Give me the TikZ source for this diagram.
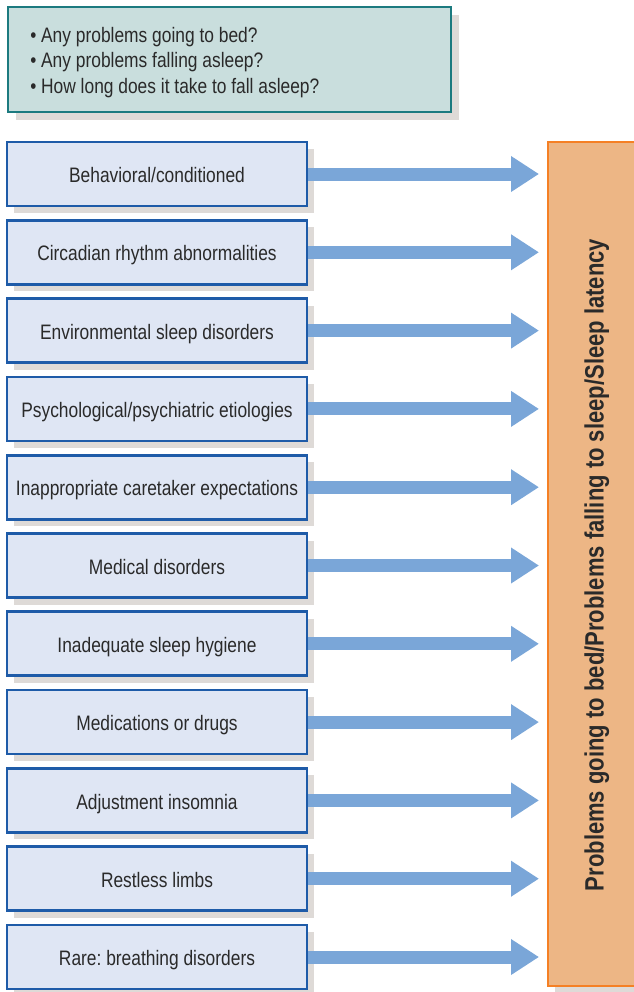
\documentclass[tikz,border=0pt]{standalone}
\usepackage{fontspec}
\setmainfont{Liberation Sans}
\newfontfamily\narrowsans[FakeStretch=0.83]{Liberation Sans}
\usetikzlibrary{shadows,arrows.meta}
\definecolor{shadowgray}{HTML}{DEDAD7}
\definecolor{topfill}{HTML}{C9DEDD}
\definecolor{topborder}{HTML}{1C7A7F}
\definecolor{causefill}{HTML}{DFE6F4}
\definecolor{causeborder}{HTML}{1E5BA8}
\definecolor{arrowblue}{HTML}{7AA6D8}
\definecolor{targetfill}{HTML}{EDB685}
\definecolor{targetborder}{HTML}{F58025}
\definecolor{textgray}{HTML}{2A2A2A}
\frenchspacing
\begin{document}
\begin{tikzpicture}[x=0.75pt,y=-0.75pt,
  shadowed/.style={drop shadow={shadow xshift=5.25pt,shadow yshift=-5.25pt,fill=shadowgray,opacity=1}},
  bodyfont/.style={font=\narrowsans\fontsize{15.7}{18}\selectfont, text=textgray},
  causebox/.style={draw=causeborder, fill=causefill, line width=2pt,
    minimum width=225pt, minimum height=48pt, inner sep=0pt, shadowed,
    bodyfont, text height=13pt, text depth=0pt},
  questionbox/.style={draw=topborder, fill=topfill, line width=1.9pt,
    minimum width=332.25pt, minimum height=78.75pt, inner sep=0pt,
    drop shadow={shadow xshift=6pt,shadow yshift=-6pt,fill=shadowgray,opacity=1}},
  targetbox/.style={draw=targetborder, fill=targetfill, line width=1.5pt,
    minimum width=69pt, minimum height=633pt, inner sep=0pt, shadowed},
  qline/.style={bodyfont, anchor=base west, inner sep=0pt},
  flow/.style={draw=arrowblue, line width=9.75pt,
    -{Triangle[length=21pt,width=25.5pt]}, shorten >=6pt}
]
\useasboundingbox (0,0) rectangle (634,992);

% question box
\node[questionbox] (qbox) at (229.5,59.5) {};
\node[qline] (q1) at (30,42) {• Any problems going to bed?};
\node[qline] (q2) at (30,67.5) {• Any problems falling asleep?};
\node[qline] (q3) at (30,93) {• How long does it take to fall asleep?};

% target box
\node[targetbox] (target) at (594,564) {};
\node[rotate=90, font=\narrowsans\bfseries\fontsize{19.9}{24}\selectfont,
  text=textgray, text height=14.25pt, text depth=0pt, inner sep=0pt]
  (targetlabel) at (594,565) {Problems going to bed/Problems falling to sleep/Sleep latency};

% cause boxes
\foreach \name/\txt [count=\i from 0] in {
  c0/Behavioral\slash conditioned,
  c1/Circadian rhythm abnormalities,
  c2/Environmental sleep disorders,
  c3/Psychological\slash psychiatric etiologies,
  c4/Inappropriate caretaker expectations,
  c5/Medical disorders,
  c6/Inadequate sleep hygiene,
  c7/Medications or drugs,
  c8/Adjustment insomnia,
  c9/Restless limbs,
  c10/Rare: breathing disorders}
{
  \node[causebox] (\name) at (157,174+78.3*\i) {\txt};
}

% arrows
\foreach \name in {c0,c1,c2,c3,c4,c5,c6,c7,c8,c9,c10}
{
  \draw[flow] (\name.east) -- (\name.east -| target.west);
}
\end{tikzpicture}
\end{document}
